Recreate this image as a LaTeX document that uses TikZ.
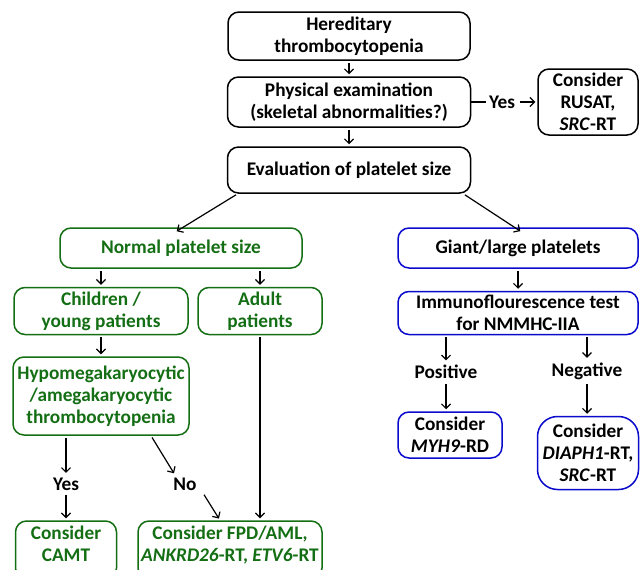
\documentclass[tikz,border=0pt]{standalone}
\usepackage{fontspec}
\setmainfont{Carlito}
\usetikzlibrary{arrows.meta, positioning, calc}
\definecolor{flowgreen}{RGB}{20,110,20}
\definecolor{flowblue}{RGB}{10,10,205}
\tikzset{
  box/.style = {draw, line width=1.5pt, rounded corners=11pt, align=center,
    inner sep=1pt, font=\fontsize{19.3}{22}\selectfont\bfseries},
  greenbox/.style = {box, draw=flowgreen, text=flowgreen},
  bluebox/.style = {box, draw=flowblue},
  lbl/.style = {inner sep=2.5pt, font=\fontsize{19.3}{22}\selectfont\bfseries},
  arr/.style = {-{Straight Barb[length=4.5pt,width=9pt]}, line width=1.2pt, shorten >=2pt, shorten <=2pt},
}
\begin{document}
\begin{tikzpicture}[x=1pt, y=-1pt]
    \useasboundingbox (0,0) rectangle (640,570);
    % Tronco comune
    \node[box, minimum width=242pt, minimum height=48pt] (here) at (349,36) {Hereditary\\thrombocytopenia};
    \node[box, minimum width=243pt, minimum height=50pt] (phys) at (349,102) {Physical examination\\(skeletal abnormalities?)};
    \node[box, minimum width=100pt, minimum height=66pt] (rusat) at (588,102) {Consider\\RUSAT,\\\textit{SRC}-RT};
    \node[box, minimum width=243pt, minimum height=46pt] (eval) at (349,170) {Evaluation of platelet size};
    \node[lbl] (yesphys) at (502,102) {Yes};
    % Ramo verde: piastrine normali
    \node[greenbox, minimum width=242pt, minimum height=40pt] (normal) at (181,248) {Normal platelet size};
    \node[greenbox, minimum width=174pt, minimum height=47pt] (child) at (101,311) {Children /\\young patients};
    \node[greenbox, minimum width=124pt, minimum height=47pt] (adult) at (260,311) {Adult\\patients};
    \node[greenbox, minimum width=176pt, minimum height=78pt] (hypo) at (101,396) {Hypomegakaryocytic\\/amegakaryocytic\\thrombocytopenia};
    \node[lbl] (yesgreen) at (66,484) {Yes};
    \node[lbl] (nogreen) at (185,484) {No};
    \node[greenbox, text depth=12pt, minimum width=101pt, minimum height=58pt] (camt) at (66,550) {Consider\\CAMT};
    \node[greenbox, text depth=12pt, minimum width=184pt, minimum height=58pt] (fpd) at (230,550) {Consider FPD/AML,\\\textit{ANKRD26}-RT, \textit{ETV6}-RT};
    % Ramo blu: piastrine giganti
    \node[bluebox, minimum width=240pt, minimum height=40pt] (giant) at (518,248) {Giant/large platelets};
    \node[bluebox, minimum width=240pt, minimum height=43pt] (immuno) at (518,313) {Immunoflourescence test\\for NMMHC-IIA};
    \node[lbl] (pos) at (446,372) {Positive};
    \node[lbl] (neg) at (587,371) {Negative};
    \node[bluebox, minimum width=104pt, minimum height=46pt] (myh) at (450,435) {Consider\\\textit{MYH9}-RD};
    \node[bluebox, rounded corners=20pt, minimum width=101pt, minimum height=73pt] (diaph) at (588,453) {Consider\\\textit{DIAPH1}-RT,\\\textit{SRC}-RT};
    % Frecce
    \draw[arr] (here) -- (phys);
    \draw[arr] (phys) -- (eval);
    \draw[line width=1.2pt] (phys.east) -- (yesphys.west);
    \draw[arr] (yesphys.east) -- (rusat.west);
    \coordinate (evl) at ([xshift=11pt]eval.south west);
    \coordinate (evr) at ([xshift=-8pt]eval.south east);
    \draw[arr] (evl) -- ([xshift=-6pt, yshift=-5pt]normal.north);
    \draw[arr] (evr) -- ([xshift=4pt, yshift=-5pt]giant.north);
    \draw[arr] (normal.south -| child.north) -- (child.north);
    \draw[arr] (normal.south -| adult.north) -- (adult.north);
    \draw[arr] (child) -- (hypo);
    \draw[arr] (hypo.south -| yesgreen.north) -- (yesgreen.north);
    \draw[arr] (yesgreen) -- (camt);
    \draw[arr] ([xshift=50pt]hypo.south) -- ([xshift=-10pt]nogreen.north);
    \draw[arr] ([xshift=18pt]nogreen.south) -- ([xshift=-10pt]fpd.north);
    \draw[arr] (adult.south) -- (adult.south |- fpd.north);
    \draw[arr] (giant) -- (immuno);
    \draw[arr] (immuno.south -| pos.north) -- (pos.north);
    \draw[arr] (immuno.south -| neg.north) -- (neg.north);
    \draw[arr] (pos.south) -- (pos.south |- myh.north);
    \draw[arr] (neg.south) -- (neg.south |- diaph.north);
\end{tikzpicture}
\end{document}
